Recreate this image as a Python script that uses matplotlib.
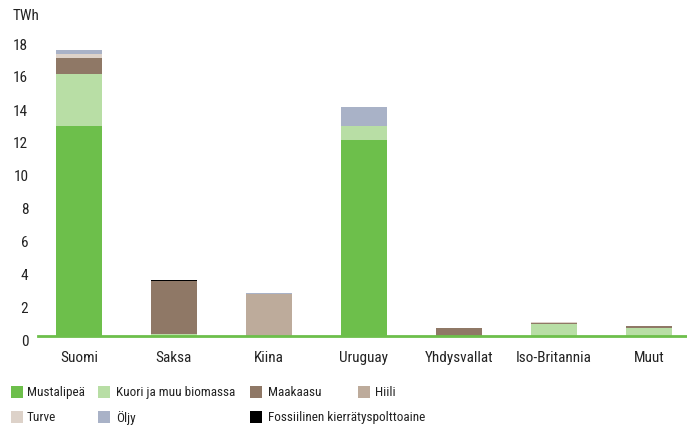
import matplotlib
matplotlib.use("Agg")
import matplotlib.pyplot as plt
from matplotlib.patches import Rectangle
from matplotlib.transforms import ScaledTranslation
import numpy as np

plt.rcParams['font.family'] = ['Roboto Condensed', 'Lato', 'DejaVu Sans']

categories = ["Suomi", "Saksa", "Kiina", "Uruguay", "Yhdysvallat", "Iso-Britannia", "Muut"]
series_names = ["Mustalipeä", "Kuori ja muu biomassa", "Maakaasu", "Hiili",
                "Turve", "Öljy", "Fossiilinen kierrätyspolttoaine"]
mustalipea = [12.7, 0.0, 0.0, 11.9, 0.0, 0.0, 0.0]
kuori = [3.15, 0.15, 0.0, 0.8, 0.0, 0.72, 0.5]
maakaasu = [1.0, 3.2, 0.0, 0.0, 0.48, 0.08, 0.12]
hiili = [0.0, 0.0, 2.55, 0.0, 0.0, 0.0, 0.0]
turve = [0.25, 0.0, 0.0, 0.0, 0.0, 0.04, 0.0]
oljy = [0.25, 0.0, 0.06, 1.18, 0.0, 0.0, 0.0]
fossiilinen = [0.0, 0.07, 0.0, 0.0, 0.0, 0.0, 0.0]
yticks = [0, 2, 4, 6, 8, 10, 12, 14, 16, 18]

colors = ["#6dbf4b", "#b8dea5", "#8f7866", "#bdab9b", "#ddd2c9", "#a9b2c7", "#000000"]
series = [mustalipea, kuori, maakaasu, hiili, turve, oljy, fossiilinen]

W, H = 687, 427
FS = 9.5
TFS = 11
fig = plt.figure(figsize=(W / 100, H / 100), dpi=100)
ax_left, ax_right = 38, 687
ax_bottom_px, ax_top_px = 337, 31.75
ax = fig.add_axes([ax_left / W, (H - ax_bottom_px) / H,
                   (ax_right - ax_left) / W, (ax_bottom_px - ax_top_px) / H])

x = np.arange(len(categories))
bottom = np.zeros(len(categories))
for vals, col, name in zip(series, colors, series_names):
    v = np.array(vals)
    ax.bar(x, v, bottom=bottom, width=0.485, color=col, label=name, linewidth=0)
    bottom += v

ax.set_xlim(-0.43, 6.4)
ax.set_ylim(0, 18.5)
ax.set_yticks(yticks)
ax.set_yticklabels([str(t) for t in yticks])
ax.set_xticks(x)
ax.set_xticklabels(categories)
for s in ["top", "right", "left"]:
    ax.spines[s].set_visible(False)
ax.spines["bottom"].set_color("#6dbf4b")
ax.spines["bottom"].set_linewidth(2)
ax.tick_params(axis="both", length=0, labelsize=TFS, colors="#222222")
ax.tick_params(axis="y", pad=7)
ax.tick_params(axis="x", pad=10)
off = ScaledTranslation(0, -4 / 100, fig.dpi_scale_trans)
for lab in ax.get_yticklabels():
    lab.set_transform(lab.get_transform() + off)

fig.text(13 / W, 1 - 16 / H, "TWh", fontsize=TFS, va="center", ha="left", color="#222222")

# legend
pos = [(11, 27, 393), (98, 116, 393), (250, 268, 393), (358, 375, 393),
       (11, 27, 418), (98, 116, 418), (250, 268, 418)]
for (px, tx, ty), col, name in zip(pos, colors, series_names):
    fig.patches.append(Rectangle((px / W, 1 - (ty + 6) / H), 12 / W, 12 / H,
                                 transform=fig.transFigure, color=col, linewidth=0))
    fig.text(tx / W, 1 - ty / H, name, fontsize=FS, va="center", ha="left", color="#222222")

fig.savefig("out.png", dpi=100)
